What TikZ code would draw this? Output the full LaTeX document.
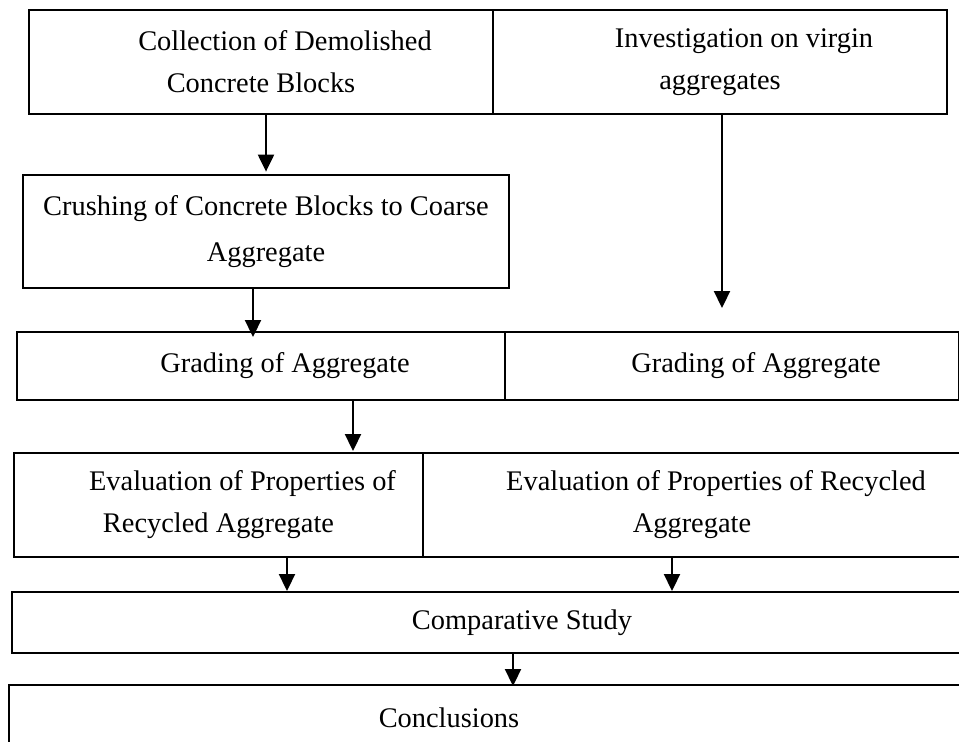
\documentclass[tikz,border=0pt]{standalone}
\usepackage{fontspec}
\setmainfont{Liberation Serif}
\usetikzlibrary{arrows.meta}

\tikzset{
    stage/.style={draw, line width=1pt, inner sep=0pt, align=center,
        font=\fontsize{14.2pt}{21pt}\selectfont},
    flow/.style={line width=1.1pt, -{Triangle[width=8pt,length=8.5pt]}}
}

\begin{document}
\begin{tikzpicture}[x=0.5pt, y=-0.5pt]
    \def\firstIndent{\hspace*{24pt}}

    % Page frame
    \useasboundingbox (0,0) rectangle (959,741);
    \clip (0,0) rectangle (959,741);

    % Top row
    \node[stage, minimum width=232pt, minimum height=52pt] (collect) at (261,62)
        {\firstIndent Collection of Demolished\\Concrete Blocks};
    \node[stage, minimum width=227pt, minimum height=52pt] (virgin) at (720,62)
        {\firstIndent Investigation on virgin\\aggregates};

    % Crushing
    \node[stage, minimum width=243pt, minimum height=56.5pt] (crush) at (266,231.5)
        {Crushing of Concrete Blocks to Coarse\\[2pt]Aggregate};

    % Grading row
    \node[stage, minimum width=244pt, minimum height=34pt] (gradeL) at (261,366)
        {\firstIndent Grading of Aggregate};
    \node[stage, minimum width=227pt, minimum height=34pt] (gradeR) at (732,366)
        {\firstIndent Grading of Aggregate};

    % Evaluation row
    \node[stage, minimum width=204.5pt, minimum height=52pt] (evalL) at (218.5,505)
        {\firstIndent Evaluation of Properties of\\Recycled Aggregate};
    \node[stage, minimum width=269pt, minimum height=52pt] (evalR) at (692,505)
        {\firstIndent Evaluation of Properties of Recycled\\Aggregate};

    % Bottom rows
    \node[stage, minimum width=479pt, minimum height=30.5pt] (compare) at (491,622.5)
        {\hspace*{31pt}Comparative Study};
    \node[stage, minimum width=480.5pt, minimum height=33pt] (conclude) at (489.5,718)
        {Conclusions\hspace*{40.5pt}};

    % Arrows
    \coordinate (virginEnd) at (722,308);
    \draw[flow, shorten >=1.2pt] (crush.north |- collect.south) -- (crush.north);
    \draw[flow] (virgin.south -| virginEnd) -- (virginEnd);
    \draw[flow, shorten >=-3pt] ([xshift=-6.5pt]crush.south) coordinate (a3) -- (a3 |- gradeL.north);
    \draw[flow, shorten >=0.5pt] ([xshift=46pt]gradeL.south) coordinate (a4) -- (a4 |- evalL.north);
    \draw[flow] ([xshift=34.25pt]evalL.south) coordinate (a5) -- (a5 |- compare.north);
    \draw[flow] ([xshift=-10pt]evalR.south) coordinate (a6) -- (a6 |- compare.north);
    \draw[flow, shorten >=-1pt] ([xshift=11pt]compare.south) coordinate (a7) -- (a7 |- conclude.north);
\end{tikzpicture}
\end{document}
